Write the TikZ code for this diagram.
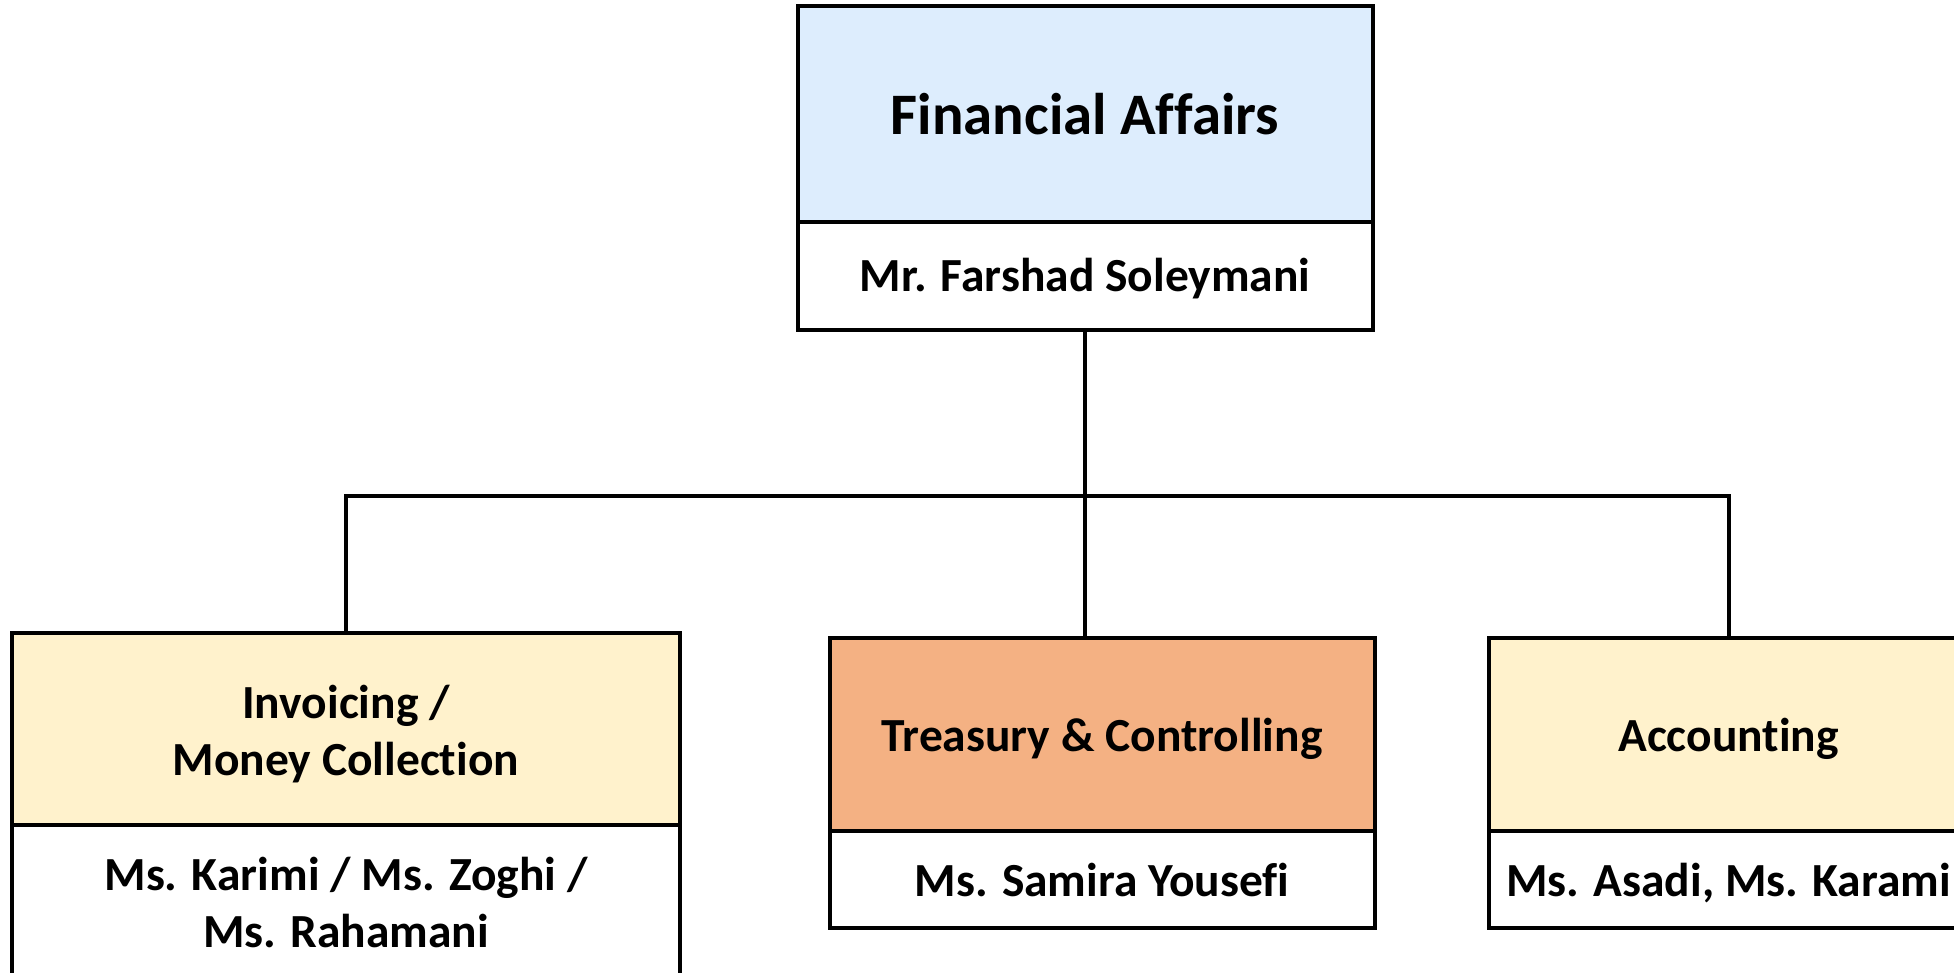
\documentclass[tikz,border=0pt]{standalone}
\usepackage{fontspec}
\setmainfont{Carlito}[Ligatures=NoCommon]
\definecolor{hdblue}{HTML}{DDEDFD}
\definecolor{hdyellow}{HTML}{FFF2CC}
\definecolor{hdorange}{HTML}{F4B183}
\newcommand{\shifted}[2]{\raisebox{-#1pt}[\height][\depth]{\begin{tabular}{@{}c@{}}#2\end{tabular}}}
\begin{document}
\begin{tikzpicture}[x=1pt,y=-1pt,
  box/.style={draw=black,line width=4pt,rectangle,inner sep=0pt,outer sep=0pt,
    align=center,font=\fontsize{47.5}{57}\selectfont\bfseries,text=black},
  conn/.style={draw=black,line width=4pt,line join=miter}]
\useasboundingbox (0,0) rectangle (1954,973);
\clip (0,0) rectangle (1954,973);
\fill[white] (0,0) rectangle (1954,973);
% top
\node[box,fill=hdblue,minimum width=575pt,minimum height=216pt,
  font=\fontsize{58.8}{70}\selectfont\bfseries] (fa) at (1085,114) {Financial Affairs};
\node[box,fill=white,minimum width=575pt,minimum height=108pt] (fan) at (1085,276) {\shifted{4}{Mr. Farshad Soleymani}};
% left
\node[box,fill=hdyellow,minimum width=668pt,minimum height=192pt] (inv) at (346,729) {\shifted{7}{Invoicing /\\Money Collection}};
\node[box,fill=white,minimum width=668pt,minimum height=156pt] (invn) at (346,903) {\shifted{5}{Ms. Karimi / Ms. Zoghi /\\Ms. Rahamani}};
% middle
\node[box,fill=hdorange,minimum width=545pt,minimum height=193pt] (tc) at (1102,734.5) {\shifted{6}{Treasury \& Controlling}};
\node[box,fill=white,minimum width=545pt,minimum height=97pt] (tcn) at (1102,879.5) {\shifted{5.5}{Ms. Samira Yousefi}};
% right
\node[box,fill=hdyellow,minimum width=479pt,minimum height=193pt] (acc) at (1728.5,734.5) {\shifted{6}{Accounting}};
\node[box,fill=white,minimum width=479pt,minimum height=97pt] (accn) at (1728.5,879.5) {\shifted{5.5}{Ms. Asadi, Ms. Karami}};
% connectors
\coordinate (barL) at (346,496);
\coordinate (barR) at (1728.5,496);
\draw[conn] (fan.south) -- (fan.south |- tc.north);
\draw[conn] (inv.north) -- (barL) -- (barR) -- (acc.north);
\end{tikzpicture}
\end{document}
